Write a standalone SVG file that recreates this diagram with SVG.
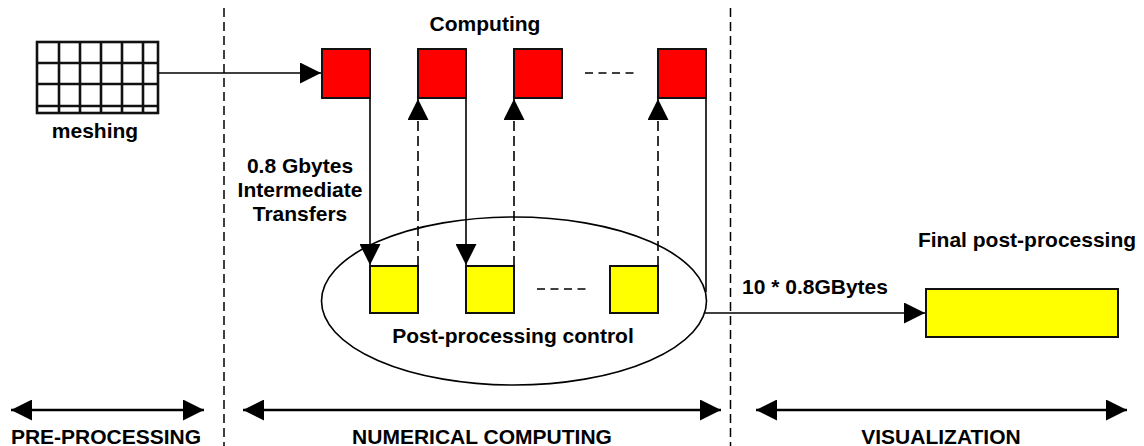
<svg xmlns="http://www.w3.org/2000/svg" width="1144" height="446" viewBox="0 0 1144 446">
<style>
  text { font-family: "Liberation Sans", Arial, sans-serif; font-weight: bold; font-size: 21px; fill: #000; text-anchor: middle; }
  .box { stroke: #111; stroke-width: 2; }
  .red { fill: #ff0000; }
  .yel { fill: #ffff00; }
  .line { fill: none; stroke: #000; stroke-width: 1.6; }
  .dash { fill: none; stroke: #000; stroke-width: 1.6; stroke-dasharray: 10 5; }
  .sep { fill: none; stroke: #000; stroke-width: 1.5; stroke-dasharray: 9 5; }
  .dots { fill: none; stroke: #000; stroke-width: 1.6; stroke-dasharray: 8 5.5; }
  .phase { fill: none; stroke: #000; stroke-width: 2.5; }
  .mesh { fill: none; stroke: #111; stroke-width: 2.6; }
</style>
<defs>
  <marker id="ah" markerUnits="userSpaceOnUse" markerWidth="22" markerHeight="21" refX="21" refY="10.5" orient="auto-start-reverse" viewBox="0 0 22 21">
    <path d="M0,0 L21,10.5 L0,21 Z" fill="#000"/>
  </marker>
</defs>

<g id="separators">
  <line class="sep" x1="224" y1="8" x2="224" y2="446"/>
  <line class="sep" x1="730.5" y1="8" x2="730.5" y2="446"/>
</g>

<g id="meshing">
  <rect class="mesh" x="37" y="42" width="121" height="71" fill="#fff"/>
  <path class="mesh" d="M59,42V113 M80,42V113 M101,42V113 M122,42V113 M143,42V113 M37,63H158 M37,84H158 M37,106H158"/>
  <text x="95" y="138">meshing</text>
</g>

<g id="computing">
  <text x="485" y="31">Computing</text>
  <rect id="c1" class="box red" x="322" y="49" width="48" height="49"/>
  <rect id="c2" class="box red" x="418" y="49" width="48" height="49"/>
  <rect id="c3" class="box red" x="514" y="49" width="48" height="49"/>
  <rect id="c4" class="box red" x="658" y="49" width="48" height="49"/>
  <line class="dots" x1="585" y1="73" x2="634" y2="73"/>
</g>

<g id="post-processing-control">
  <ellipse class="line" cx="514" cy="301" rx="192.5" ry="84"/>
  <rect id="p1" class="box yel" x="370" y="266" width="48" height="47"/>
  <rect id="p2" class="box yel" x="466" y="266" width="48" height="47"/>
  <rect id="p3" class="box yel" x="610" y="266" width="48" height="47"/>
  <line class="dots" x1="537" y1="289" x2="587" y2="289"/>
  <text x="513" y="343">Post-processing control</text>
</g>

<g id="final-post-processing">
  <text x="1027" y="247">Final post-processing</text>
  <rect class="box yel" x="926" y="289" width="192" height="48"/>
</g>

<g id="labels">
  <text x="300" y="173">0.8 Gbytes</text>
  <text x="300" y="197">Intermediate</text>
  <text x="300" y="221">Transfers</text>
  <text x="815" y="294">10 * 0.8GBytes</text>
</g>

<g id="connectors">
  <line class="line" x1="158" y1="73" x2="321" y2="73" marker-end="url(#ah)"/>
  <line class="line" x1="370" y1="98" x2="370" y2="265" marker-end="url(#ah)"/>
  <line class="line" x1="466" y1="98" x2="466" y2="265" marker-end="url(#ah)"/>
  <line class="dash" x1="418" y1="266" x2="418" y2="99" marker-end="url(#ah)"/>
  <line class="dash" x1="514" y1="266" x2="514" y2="99" marker-end="url(#ah)"/>
  <line class="dash" x1="658" y1="266" x2="658" y2="99" marker-end="url(#ah)"/>
  <line class="line" x1="706" y1="98" x2="706" y2="292"/>
  <line class="line" x1="705" y1="313" x2="925" y2="313" marker-end="url(#ah)"/>
</g>

<g id="phases">
  <line class="phase" x1="11" y1="410" x2="204" y2="410" marker-start="url(#ah)" marker-end="url(#ah)"/>
  <text x="106" y="444">PRE-PROCESSING</text>
  <line class="phase" x1="243" y1="410" x2="721" y2="410" marker-start="url(#ah)" marker-end="url(#ah)"/>
  <text x="482" y="444">NUMERICAL COMPUTING</text>
  <line class="phase" x1="756" y1="410" x2="1127" y2="410" marker-start="url(#ah)" marker-end="url(#ah)"/>
  <text x="941" y="444">VISUALIZATION</text>
</g>
</svg>
